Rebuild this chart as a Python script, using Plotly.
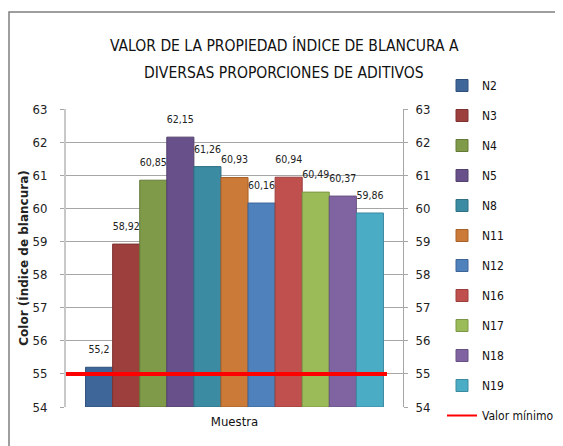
import plotly.graph_objects as go

series = ["N2", "N3", "N4", "N5", "N8", "N11", "N12", "N16", "N17", "N18", "N19"]
values = [55.2, 58.92, 60.85, 62.15, 61.26, 60.93, 60.16, 60.94, 60.49, 60.37, 59.86]
colors = ["#3E6699", "#9C3F3D", "#7F9A48", "#68508A", "#3B8BA3", "#CB7A38",
          "#4F81BD", "#C0504D", "#9BBB59", "#8064A2", "#4BACC6"]
edges = ["#2F4F7A", "#7E3230", "#657A38", "#52406D", "#2E6F82", "#A6622B",
         "#3C6596", "#9A3F3D", "#7C9647", "#665082", "#3B8AA0"]
category = ["Muestra"]
min_name = "Valor mínimo"
min_value = 55
min_x = [0, 0.9525]
y_ticks = list(range(54, 64))
title_lines = ["VALOR DE LA PROPIEDAD ÍNDICE DE BLANCURA A", "DIVERSAS PROPORCIONES DE ADITIVOS"]

narrow = "DejaVu Sans Condensed, Liberation Sans Narrow, Liberation Sans, sans-serif"

# page body margin shifts the figure by 8 px
OFF = 8
W, H = 563, 446
PLOT_L, PLOT_R, PLOT_T, PLOT_B = 66, 403, 109, 407  # screenshot px
L = PLOT_L - OFF
T = PLOT_T - OFF
R = W - (PLOT_R - OFF)
B = H - (PLOT_B - OFF)
pw, ph = PLOT_R - PLOT_L, PLOT_B - PLOT_T


def px_to_paper_x(p):
    return (p - PLOT_L) / pw


def px_to_paper_y(p):
    return (PLOT_B - p) / ph


fig = go.Figure()
for i, (s, v) in enumerate(zip(series, values)):
    lbl = f"{v:.2f}".rstrip("0").rstrip(".").replace(".", ",")
    fig.add_trace(go.Bar(
        x=category, y=[v - 54], base=54, name=s,
        marker=dict(color=colors[i], line=dict(color=edges[i], width=1)),
        text=[f"<span style='font-size:10.5px'>{lbl}</span><br> "],
        textposition="outside", cliponaxis=False,
        textfont=dict(family=narrow, size=7, color="#222"),
        legendgroup=s, hoverinfo="skip",
    ))

fig.add_trace(go.Scatter(
    x=min_x, y=[min_value] * 2, mode="lines", name=min_name,
    line=dict(color="#FF0000", width=4), xaxis="x2", showlegend=False,
    hoverinfo="skip",
))
# legend entry for the minimum line (thinner stroke, as in the original legend)
fig.add_trace(go.Scatter(
    x=[None], y=[None], mode="lines", name=min_name, xaxis="x2",
    line=dict(color="#FF0000", width=2), legendgroup="min", hoverinfo="skip",
))
fig.add_trace(go.Scatter(
    x=category, y=[None], yaxis="y2", showlegend=False, hoverinfo="skip",
))

annotations = []
for ln, ypx in zip(title_lines, [45, 73]):
    annotations.append(dict(
        text=ln, xref="paper", yref="paper", x=px_to_paper_x(284),
        y=px_to_paper_y(ypx), xanchor="center", yanchor="middle",
        showarrow=False,
        font=dict(family=narrow, size=15.5, color="#111"),
    ))

fig.update_layout(
    width=W, height=H,
    margin=dict(l=L, r=R, t=T, b=B, autoexpand=False),
    paper_bgcolor="white", plot_bgcolor="white",
    barmode="group", bargap=0.116, bargroupgap=0,
    showlegend=True,
    annotations=annotations,
    xaxis=dict(type="category", range=[-0.5, 0.5], showgrid=False,
               showline=False, ticks="", automargin=False, ticklabelstandoff=5,
               tickfont=dict(family=narrow, size=13, color="#111")),
    xaxis2=dict(overlaying="x", range=[0, 1], visible=False),
    yaxis=dict(range=[54, 63], tickvals=y_ticks, showgrid=True,
               gridcolor="#A6A6A6", gridwidth=1, showline=True,
               linecolor="#C8C8C8", linewidth=2, ticks="outside", ticklen=4,
               tickcolor="#A6A6A6", ticklabelstandoff=10, automargin=False,
               tickfont=dict(family=narrow, size=13, color="#222"),
               zeroline=False,
               title=dict(text="Color (Índice de blancura)", standoff=1,
                          font=dict(family="DejaVu Sans", size=12, color="#222",
                                    weight="bold"))),
    yaxis2=dict(overlaying="y", side="right", range=[54, 63], tickvals=y_ticks,
                showgrid=False, showline=True, linecolor="#A6A6A6", linewidth=1,
                ticks="outside", ticklen=4, tickcolor="#A6A6A6", automargin=False,
                ticklabelstandoff=5, zeroline=False,
                tickfont=dict(family=narrow, size=13, color="#222")),
    legend=dict(x=px_to_paper_x(442), y=px_to_paper_y(71), xanchor="left",
                yanchor="top", tracegroupgap=11, bgcolor="rgba(0,0,0,0)",
                maxheight=420,
                font=dict(family=narrow, size=12, color="#111")),
    shapes=[dict(type="rect", xref="paper", yref="paper",
                 x0=px_to_paper_x(9), x1=px_to_paper_x(620),
                 y0=px_to_paper_y(470), y1=px_to_paper_y(12),
                 line=dict(color="#7F7F7F", width=1.5), fillcolor="rgba(0,0,0,0)",
                 layer="below")],
)

fig.write_html("out.html")
